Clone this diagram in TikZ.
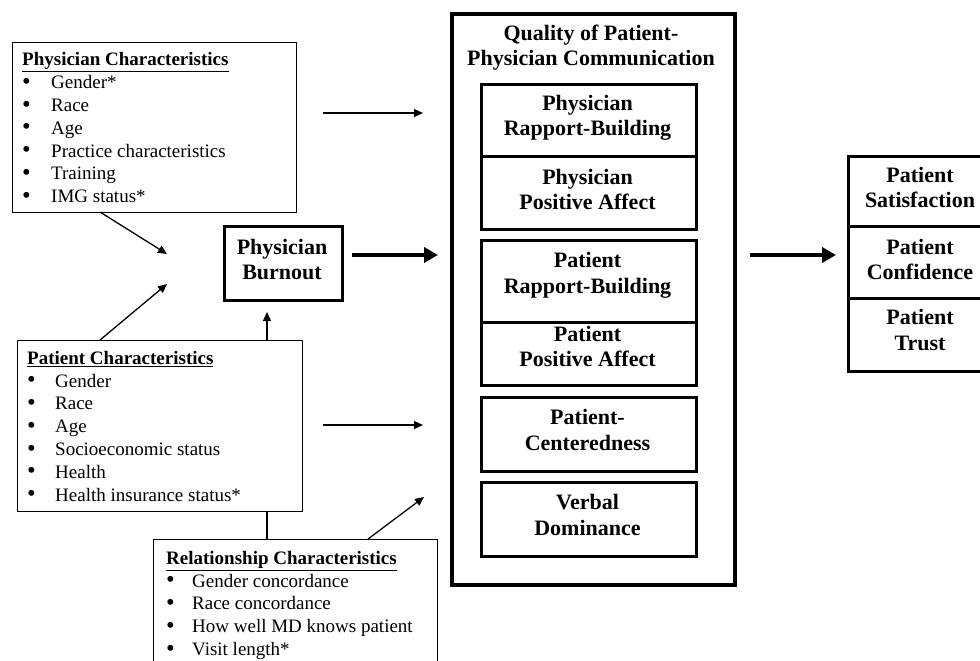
\documentclass[tikz,border=0pt]{standalone}
\usepackage{fontspec}
\setmainfont{Liberation Serif}
\usetikzlibrary{arrows.meta}
\newcommand{\blt}[1]{\makebox[#1][l]{\raisebox{-0.6pt}{\scalebox{1.3}{\textbullet}}}}
\begin{document}
\begin{tikzpicture}[x=1pt,y=-1pt,
  thinbox/.style={draw, line width=1.2pt, inner sep=0pt, anchor=north west},
  thickbox/.style={draw, line width=3.4pt, inner sep=0pt, anchor=north west},
  listtext/.style={anchor=north west, inner sep=0pt, align=left, font=\fontsize{19}{22.8}\selectfont},
  boldtext/.style={inner sep=0pt, align=center, font=\fontsize{22}{25.5}\selectfont\bfseries},
  thinarrow/.style={line width=1.3pt, -{Triangle[length=9pt,width=8pt]}},
  thickarrow/.style={line width=4pt, -{Triangle[length=14pt,width=15pt]}},
  plainline/.style={line width=1.3pt}
]
\useasboundingbox (0,0) rectangle (980,661);
\clip (0,0) rectangle (980,661);

% Physician characteristics
\node[thinbox, minimum width=284pt, minimum height=170pt] (physbox) at (12,42) {};
\node[listtext] (phystext) at (22,52.5) {\underline{\textbf{Physician Characteristics}}\\
\blt{29pt}Gender*\\
\blt{29pt}Race\\
\blt{29pt}Age\\
\blt{29pt}Practice characteristics\\
\blt{29pt}Training\\
\blt{29pt}IMG status*};

% Patient characteristics
\node[thinbox, minimum width=285pt, minimum height=171pt] (patbox) at (17,340) {};
\node[listtext] (pattext) at (27,351) {\underline{\textbf{Patient Characteristics}}\\
\blt{28pt}Gender\\
\blt{28pt}Race\\
\blt{28pt}Age\\
\blt{28pt}Socioeconomic status\\
\blt{28pt}Health\\
\blt{28pt}Health insurance status*};

% Relationship characteristics
\node[thinbox, minimum width=284pt, minimum height=150pt] (relbox) at (153,539) {};
\node[listtext] (reltext) at (166,551) {\underline{\textbf{Relationship Characteristics}}\\
\blt{26pt}Gender concordance\\
\blt{26pt}Race concordance\\
\blt{26pt}How well MD knows patient\\
\blt{26pt}Visit length*};

% Physician burnout
\node[thickbox, line width=3.2pt, minimum width=118pt, minimum height=74pt] (burnbox) at (223,225) {};
\node[boldtext] (burntext) at (282,259.5) {Physician\\Burnout};

% Quality of communication
\node[thickbox, line width=4pt, minimum width=283pt, minimum height=571pt] (qualbox) at (450,12) {};
\node[boldtext] (qualtext) at (591,47.5) {Quality of Patient-\\Physician Communication};

\node[thickbox, minimum width=215pt, minimum height=72pt] (prb) at (480,83) {};
\node[thickbox, minimum width=215pt, minimum height=73pt] (ppa) at (480,155) {};
\node[thickbox, minimum width=215pt, minimum height=82pt] (ptrb) at (480,239) {};
\node[thickbox, minimum width=215pt, minimum height=63pt] (ptpa) at (480,321) {};
\node[thickbox, minimum width=215pt, minimum height=74pt] (pc) at (480,396) {};
\node[thickbox, minimum width=215pt, minimum height=74pt] (vd) at (480,481) {};

\node[boldtext] (prbtext) at (587.5,118) {Physician\\Rapport-Building};
\node[boldtext] (ppatext) at (587.5,189.5) {Physician\\Positive Affect};
\node[boldtext] (ptrbtext) at (587.5,275.5) {Patient\\Rapport-Building};
\node[boldtext] (ptpatext) at (587.5,346.5) {Patient\\Positive Affect};
\node[boldtext] (pctext) at (587.5,430) {Patient-\\Centeredness};
\node[boldtext] (vdtext) at (587.5,515) {Verbal\\Dominance};

% Outcomes
\node[thickbox, minimum width=150pt, minimum height=70pt] (sat) at (847,155) {};
\node[thickbox, minimum width=150pt, minimum height=72pt] (conf) at (847,225) {};
\node[thickbox, minimum width=150pt, minimum height=73pt] (trust) at (847,297) {};
\node[boldtext] (sattext) at (920,187.5) {Patient\\Satisfaction};
\node[boldtext] (conftext) at (920,259.5) {Patient\\Confidence};
\node[boldtext] (trusttext) at (920,330) {Patient\\Trust};

% Connector coordinates
\coordinate (a1s) at (323,113);
\coordinate (a1e) at (423,113);
\coordinate (a2s) at (323,425);
\coordinate (a2e) at (423,425);
\coordinate (a3s) at (368,539);
\coordinate (a3e) at (424,497);
\coordinate (a4s) at (100,212);
\coordinate (a4e) at (167,254);
\coordinate (a5s) at (100,340);
\coordinate (a5e) at (167,284);
\coordinate (a6s) at (267,340);
\coordinate (a6e) at (267,312);
\coordinate (l1s) at (267,511);
\coordinate (l1e) at (267,539);
\coordinate (b1s) at (352,255);
\coordinate (b1e) at (438,255);
\coordinate (b2s) at (750,255);
\coordinate (b2e) at (836,255);

\draw[thinarrow] (a1s) -- (a1e);
\draw[thinarrow] (a2s) -- (a2e);
\draw[thinarrow] (a3s) -- (a3e);
\draw[thinarrow] (a4s) -- (a4e);
\draw[thinarrow] (a5s) -- (a5e);
\draw[thinarrow] (a6s) -- (a6e);
\draw[plainline] (l1s) -- (l1e);
\draw[thickarrow] (b1s) -- (b1e);
\draw[thickarrow] (b2s) -- (b2e);
\end{tikzpicture}
\end{document}
